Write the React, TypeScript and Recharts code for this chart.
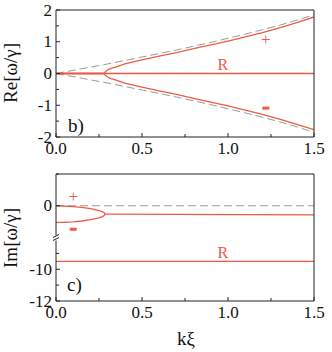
import { LineChart, Line, XAxis, YAxis, ReferenceDot } from 'recharts';

const RED = '#ef5a48';
const GREY = '#9a9a9a';
const AXIS = '#222';
const FONT = '"Liberation Serif", "DejaVu Serif", serif';

// panel b): Re[w/gamma]
const K_GRID = [0, 0.1, 0.2, 0.3, 0.4, 0.5, 0.6, 0.7, 0.8, 0.9, 1.0, 1.1, 1.2, 1.3, 1.4, 1.5];
const RE_DASH_UP = [0, 0.1, 0.2, 0.3, 0.41, 0.52, 0.63, 0.74, 0.86, 0.98, 1.11, 1.24, 1.38, 1.52, 1.68, 1.85];
const RE_DASH_DN = [0, -0.1, -0.2, -0.3, -0.41, -0.52, -0.63, -0.74, -0.86, -0.98, -1.11, -1.24, -1.38, -1.52, -1.68, -1.85];
const K_SPLIT = [0, 0.28, 0.285, 0.29, 0.3, 0.32, 0.35, 0.4, 0.5, 0.6, 0.7, 0.8, 0.9, 1.0, 1.1, 1.2, 1.3, 1.4, 1.5];
const RE_PLUS = [0, 0, 0.04, 0.07, 0.11, 0.16, 0.21, 0.3, 0.43, 0.55, 0.66, 0.78, 0.9, 1.02, 1.15, 1.29, 1.44, 1.6, 1.78];
const RE_MINUS = [0, 0, -0.04, -0.07, -0.11, -0.16, -0.21, -0.3, -0.43, -0.55, -0.66, -0.78, -0.9, -1.02, -1.15, -1.29, -1.44, -1.6, -1.77];
const K_ENDS = [0, 1.5];
const RE_R = [0, 0];

// panel c): Im[w/gamma] (broken axis: -12..-8 and -2..2)
const K_LOOP = [0, 0.05, 0.1, 0.15, 0.2, 0.25, 0.27, 0.28, 0.285];
const IM_PLUS = [0, -0.02, -0.05, -0.1, -0.18, -0.3, -0.38, -0.44, -0.53];
const IM_MINUS = [-1.05, -1.04, -1.01, -0.96, -0.88, -0.76, -0.68, -0.62, -0.53];
const K_MERGED = [0.285, 1.5];
const IM_MERGED = [-0.53, -0.57];
const IM_R = [-9.5, -9.5];
const IM_DASH = [0, 0];

const X_TICKS = [0, 0.25, 0.5, 0.75, 1.0, 1.25, 1.5];
const X_LABELS = [0, 0.5, 1.0, 1.5];
const RE_TICKS = [-2, -1.5, -1, -0.5, 0, 0.5, 1, 1.5, 2];
const IM_TICKS = [2, 0, -2, -9, -10, -11, -12];
const IM_LABELS = [0, -10, -12];
const IM_BREAK = -2;

// map the broken Im axis onto one continuous scale
const imAxis = (v: number) => (v >= -2 ? v : v + 6);
const imReal = (v: number) => (v >= -2 ? v : v - 6);

const pts = (xs: number[], ys: number[], f = (v: number) => v) => xs.map((k, i) => ({ k, y: f(ys[i]) }));

const reDashUp = pts(K_GRID, RE_DASH_UP);
const reDashDn = pts(K_GRID, RE_DASH_DN);
const rePlus = pts(K_SPLIT, RE_PLUS);
const reMinus = pts(K_SPLIT, RE_MINUS);
const reR = pts(K_ENDS, RE_R);

const imPlus = pts(K_LOOP, IM_PLUS, imAxis);
const imMinus = pts(K_LOOP, IM_MINUS, imAxis);
const imMerged = pts(K_MERGED, IM_MERGED, imAxis);
const imR = pts(K_ENDS, IM_R, imAxis);
const imDash = pts(K_ENDS, IM_DASH, imAxis);

const textStyle = { fontFamily: FONT, fontSize: 17, fill: '#111', style: { fontFamily: FONT } };

const breakMark = (x: number, y: number) => (
  <g>
    <rect x={x - 1.5} y={y - 2} width={3} height={5} fill="#fff" />
    <path d={`M${x - 3},${y} l6,-3 M${x - 3},${y + 3} l6,-3`} stroke={AXIS} strokeWidth={1} fill="none" />
  </g>
);

const bottomTick = (props: any) => {
  const { x, y, payload } = props;
  const v = payload.value;
  const major = X_LABELS.includes(v);
  return (
    <g>
      <line x1={x} y1={y} x2={x} y2={y - (major ? 4 : 3)} stroke={AXIS} />
      {major && (
        <text x={x} y={y + 17} textAnchor="middle" {...textStyle}>
          {v.toFixed(1)}
        </text>
      )}
    </g>
  );
};

const topTick = (props: any) => {
  const { x, y } = props;
  return <line x1={x} y1={y} x2={x} y2={y + 3.5} stroke={AXIS} />;
};

const reLeftTick = (props: any) => {
  const { x, y, payload } = props;
  const v = payload.value;
  const major = Number.isInteger(v);
  return (
    <g>
      <line x1={x} y1={y} x2={x + (major ? 4 : 3)} y2={y} stroke={AXIS} />
      {major && (
        <text x={x - 4} y={y} dy={5.5} textAnchor="end" {...textStyle}>
          {String(v)}
        </text>
      )}
    </g>
  );
};

const reRightTick = (props: any) => {
  const { x, y, payload } = props;
  const major = Number.isInteger(payload.value);
  return <line x1={x} y1={y} x2={x - (major ? 4 : 3)} y2={y} stroke={AXIS} />;
};

const imLeftTick = (props: any) => {
  const { x, y, payload } = props;
  const real = imReal(payload.value);
  if (payload.value === IM_BREAK) return breakMark(x, y);
  const labelled = IM_LABELS.includes(real);
  return (
    <g>
      <line x1={x} y1={y} x2={x + (labelled ? 4 : 3)} y2={y} stroke={AXIS} />
      {labelled && (
        <text x={x - 4} y={y} dy={5.5} textAnchor="end" {...textStyle}>
          {String(real)}
        </text>
      )}
    </g>
  );
};

const imRightTick = (props: any) => {
  const { x, y, payload } = props;
  if (payload.value === IM_BREAK) return breakMark(x, y);
  return <line x1={x} y1={y} x2={x - 3.5} y2={y} stroke={AXIS} />;
};

const note = (t: string) => (p: any) => {
  if (t === '-') return <rect x={p.cx - 3.5} y={p.cy - 1.5} width={7} height={3} fill={RED} />;
  return (
    <text x={p.cx} y={p.cy} dy={5} textAnchor="middle" fontFamily={FONT} style={{ fontFamily: FONT }} fontSize={t === '+' ? 17 : 16} fill={RED}>
      {t}
    </text>
  );
};

const lineProps = {
  xAxisId: 'b',
  yAxisId: 'l',
  dataKey: 'y',
  type: 'linear' as const,
  dot: false,
  activeDot: false,
  isAnimationActive: false,
};

const axisLine = { stroke: AXIS, strokeWidth: 1 };

// plot box: left 56, right 314; margins + axis sizes are set so the box lands there
const margin = (top: number, bottom: number) => ({ top, right: 17, bottom, left: 16 });

export default function App() {
  return (
    <div style={{ position: 'absolute', left: 0, top: 0, width: 332, height: 352, background: '#fff' }}>
      <div style={{ position: 'absolute', left: 0, top: 0 }}>
        <LineChart width={332} height={165} margin={margin(9, 8)}>
          <XAxis xAxisId="b" type="number" dataKey="k" domain={[0, 1.5]} ticks={X_TICKS} interval={0} height={20} tickSize={0} tickMargin={0} axisLine={axisLine} tickLine={false} tick={bottomTick} allowDataOverflow />
          <XAxis xAxisId="t" orientation="top" type="number" dataKey="k" domain={[0, 1.5]} ticks={X_TICKS} interval={0} height={1} tickSize={0} tickMargin={0} axisLine={axisLine} tickLine={false} tick={topTick} />
          <YAxis yAxisId="l" type="number" domain={[-2, 2]} ticks={RE_TICKS} interval={0} width={40} tickSize={0} tickMargin={0} axisLine={axisLine} tickLine={false} tick={reLeftTick} allowDataOverflow />
          <YAxis yAxisId="r" orientation="right" type="number" domain={[-2, 2]} ticks={RE_TICKS} interval={0} width={1} tickSize={0} tickMargin={0} axisLine={axisLine} tickLine={false} tick={reRightTick} />
          <Line {...lineProps} data={reDashUp} stroke={GREY} strokeWidth={1} strokeDasharray="8 4" />
          <Line {...lineProps} data={reDashDn} stroke={GREY} strokeWidth={1} strokeDasharray="8 4" />
          <Line {...lineProps} data={reR} stroke={RED} strokeWidth={1.3} />
          <Line {...lineProps} data={rePlus} stroke={RED} strokeWidth={1.3} />
          <Line {...lineProps} data={reMinus} stroke={RED} strokeWidth={1.3} />
          <ReferenceDot xAxisId="b" yAxisId="l" x={0.97} y={0.27} r={0} shape={note('R')} />
          <ReferenceDot xAxisId="b" yAxisId="l" x={1.22} y={1.05} r={0} shape={note('+')} />
          <ReferenceDot xAxisId="b" yAxisId="l" x={1.22} y={-1.09} r={0} shape={note('-')} />
        </LineChart>
      </div>
      <div style={{ position: 'absolute', left: 0, top: 160 }}>
        <LineChart width={332} height={192} margin={margin(13, 31)}>
          <XAxis xAxisId="b" type="number" dataKey="k" domain={[0, 1.5]} ticks={X_TICKS} interval={0} height={20} tickSize={0} tickMargin={0} axisLine={axisLine} tickLine={false} tick={bottomTick} allowDataOverflow />
          <XAxis xAxisId="t" orientation="top" type="number" dataKey="k" domain={[0, 1.5]} ticks={X_TICKS} interval={0} height={1} tickSize={0} tickMargin={0} axisLine={axisLine} tickLine={false} tick={topTick} />
          <YAxis yAxisId="l" type="number" domain={[-6, 2]} ticks={IM_TICKS.map(imAxis)} interval={0} width={40} tickSize={0} tickMargin={0} axisLine={axisLine} tickLine={false} tick={imLeftTick} allowDataOverflow />
          <YAxis yAxisId="r" orientation="right" type="number" domain={[-6, 2]} ticks={IM_TICKS.map(imAxis)} interval={0} width={1} tickSize={0} tickMargin={0} axisLine={axisLine} tickLine={false} tick={imRightTick} />
          <Line {...lineProps} data={imDash} stroke={GREY} strokeWidth={1} strokeDasharray="8 4" />
          <Line {...lineProps} data={imR} stroke={RED} strokeWidth={1.3} />
          <Line {...lineProps} data={imMerged} stroke={RED} strokeWidth={1.3} />
          <Line {...lineProps} data={imPlus} stroke={RED} strokeWidth={1.3} />
          <Line {...lineProps} data={imMinus} stroke={RED} strokeWidth={1.3} />
          <ReferenceDot xAxisId="b" yAxisId="l" x={0.97} y={imAxis(-9)} r={0} shape={note('R')} />
          <ReferenceDot xAxisId="b" yAxisId="l" x={0.1} y={imAxis(0.57)} r={0} shape={note('+')} />
          <ReferenceDot xAxisId="b" yAxisId="l" x={0.1} y={imAxis(-1.48)} r={0} shape={note('-')} />
        </LineChart>
      </div>
      <svg width={332} height={352} style={{ position: 'absolute', left: 0, top: 0, pointerEvents: 'none' }}>
        <g fontFamily={FONT} fontSize={19} fill="#111" style={{ fontFamily: FONT }}>
          <text x={17} y={73} textAnchor="middle" transform="rotate(-90 17 73)">Re[ω/γ]</text>
          <text x={17} y={238} textAnchor="middle" transform="rotate(-90 17 238)">Im[ω/γ]</text>
          <text x={186} y={345} textAnchor="middle">kξ</text>
          <text x={68} y={132}>b)</text>
          <text x={67} y={291}>c)</text>
        </g>
      </svg>
    </div>
  );
}
